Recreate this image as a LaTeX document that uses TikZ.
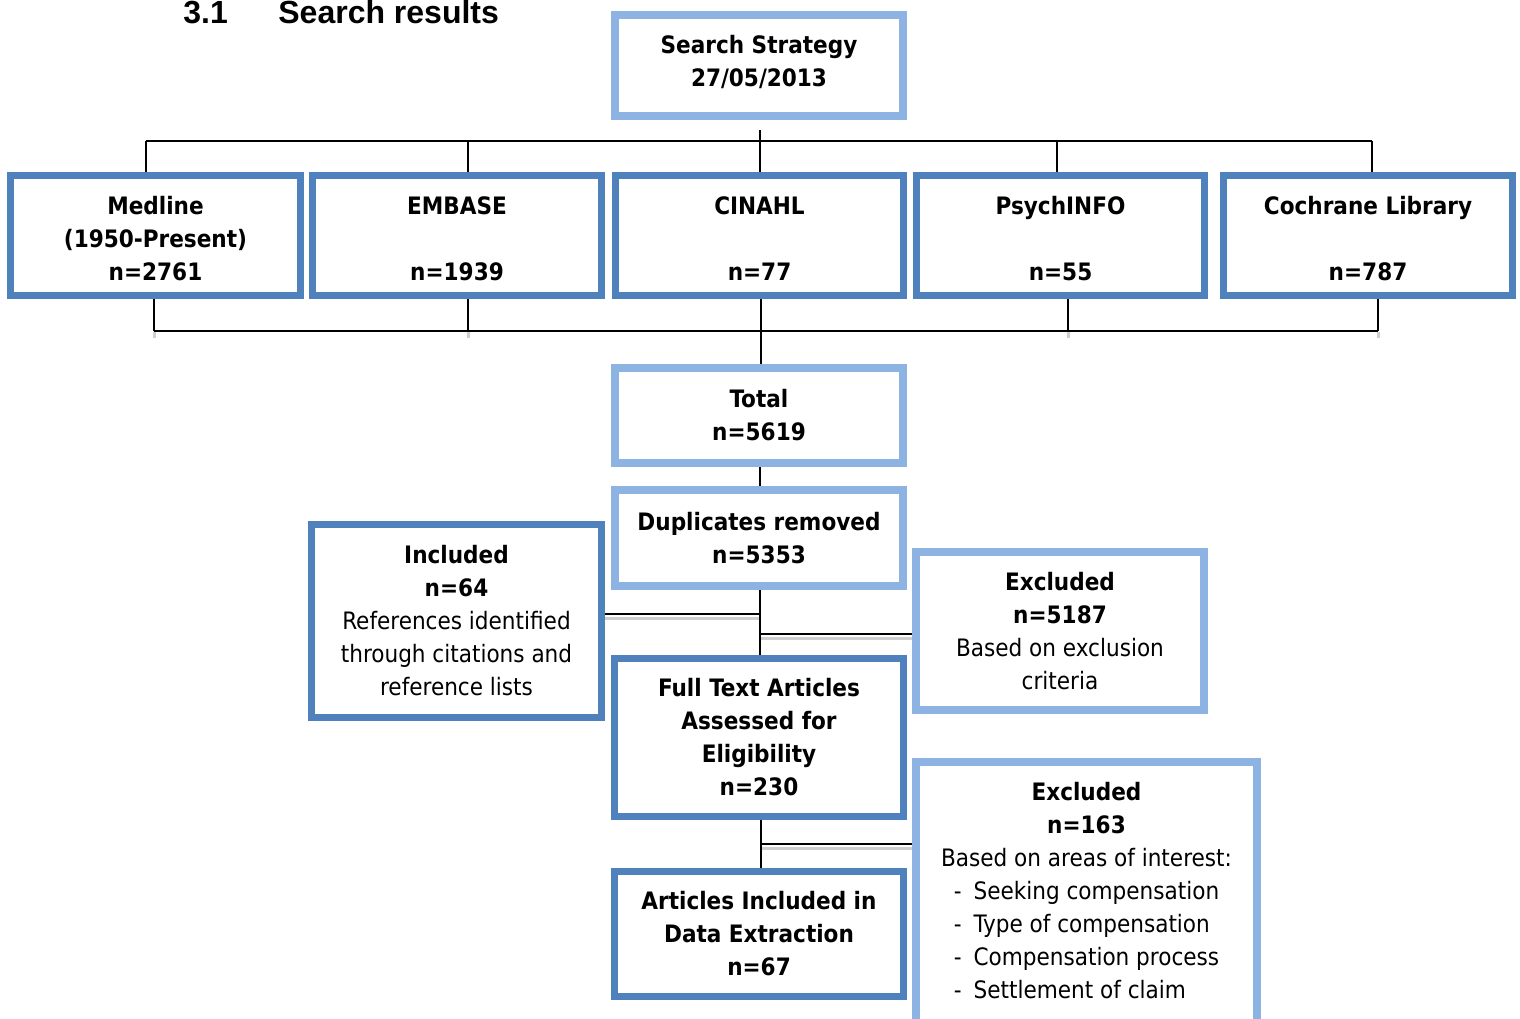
\documentclass[tikz,border=0pt]{standalone}
\usepackage{fontspec}
\setmainfont{DejaVu Sans Condensed}
\newfontfamily\titlefont{Liberation Sans}
\definecolor{lightbox}{HTML}{8DB3E2}
\definecolor{darkbox}{HTML}{4F81BD}
\definecolor{shadowgrey}{HTML}{CFCFCF}
\begin{document}
\begin{tikzpicture}[x=0.5pt,y=-0.5pt,
  boxtext/.style={rectangle, align=center, inner sep=0pt,
    font=\fontsize{12}{16.5}\selectfont},
  boxbase/.style={boxtext, fill=white},
  lightb/.style={boxbase, draw=lightbox, line width=4pt},
  darkb/.style={boxbase, draw=darkbox, line width=3.5pt},
  conn/.style={draw=black, line width=1pt},
  shadow/.style={draw=shadowgrey, line width=1.5pt}]
\useasboundingbox (0,0) rectangle (1520,1018);
% title
\node[anchor=base west, inner sep=0pt, font=\titlefont\bfseries\fontsize{16}{19}\selectfont] (title) at (183,23) {\makebox[47.5pt][l]{3.1}Search results};
% boxes
\node[lightb, minimum width=144pt, minimum height=50.5pt] (search) at (759,65.5) {};
\node[boxtext] (searchtxt) at (759,61.5) {\textbf{Search Strategy}\\\textbf{27/05/2013}};
\node[darkb, minimum width=145pt, minimum height=60pt] (medline) at (155.5,235.5) {};
\node[darkb, minimum width=144.5pt, minimum height=60pt] (embase) at (457,235.5) {};
\node[darkb, minimum width=144pt, minimum height=60pt] (cinahl) at (759.5,235.5) {};
\node[darkb, minimum width=144pt, minimum height=60pt] (psych) at (1060.5,235.5) {};
\node[darkb, minimum width=144.5pt, minimum height=60pt] (cochrane) at (1368,235.5) {};
\node[boxtext] (medlinetxt) at (155.5,238.5) {\textbf{Medline}\\\textbf{(1950-Present)}\\\textbf{n=2761}};
\node[boxtext] (embasetxt) at (457,238.5) {\textbf{EMBASE}\\[16.5pt]\textbf{n=1939}};
\node[boxtext] (cinahltxt) at (759.5,238.5) {\textbf{CINAHL}\\[16.5pt]\textbf{n=77}};
\node[boxtext] (psychtxt) at (1060.5,238.5) {\textbf{PsychINFO}\\[16.5pt]\textbf{n=55}};
\node[boxtext] (cochranetxt) at (1368,238.5) {\textbf{Cochrane Library}\\[16.5pt]\textbf{n=787}};
\node[lightb, minimum width=144pt, minimum height=47.5pt] (total) at (759,415.5) {\textbf{Total}\\\textbf{n=5619}};
\node[lightb, minimum width=144pt, minimum height=48pt] (dup) at (759,538) {\textbf{Duplicates removed}\\\textbf{n=5353}};
\node[darkb, minimum width=145pt, minimum height=96.5pt] (incl) at (456.5,621) {\textbf{Included}\\\textbf{n=64}\\References identified\\through citations and\\reference lists};
\node[lightb, minimum width=144pt, minimum height=79pt] (excl1) at (1060,631) {\textbf{Excluded}\\\textbf{n=5187}\\Based on exclusion\\criteria};
\node[darkb, minimum width=144.5pt, minimum height=79pt] (full) at (759,737.5) {\textbf{Full Text Articles}\\\textbf{Assessed for}\\\textbf{Eligibility}\\\textbf{n=230}};
\node[lightb, minimum width=170.5pt, minimum height=134.5pt] (excl2) at (1086.5,896.5) {};
\node[boxtext] (excl2txt) at (1086.5,895) {\textbf{Excluded}\\\textbf{n=163}\\Based on areas of interest:\\\begin{tabular}[t]{@{}l@{}}-\hspace{6pt}Seeking compensation\\-\hspace{6pt}Type of compensation\\-\hspace{6pt}Compensation process\\-\hspace{6pt}Settlement of claim\end{tabular}};
\node[darkb, minimum width=144.5pt, minimum height=62.5pt] (art) at (759,934) {\textbf{Articles Included in}\\\textbf{Data Extraction}\\\textbf{n=67}};
% top bus
\coordinate (s1) at (760,130);
\coordinate (tA) at (146,141);
\coordinate (tB) at (468,141);
\coordinate (tD) at (1057,141);
\coordinate (tE) at (1372,141);
\draw[conn] (tA) -- (tE);
\draw[conn] (s1) -- (s1 |- cinahl.north);
\draw[conn] (tA) -- (tA |- medline.north);
\draw[conn] (tB) -- (tB |- embase.north);
\draw[conn] (tD) -- (tD |- psych.north);
\draw[conn] (tE) -- (tE |- cochrane.north);
% bottom bus
\coordinate (bA) at (154,331);
\coordinate (bB) at (468,331);
\coordinate (bC) at (761,331);
\coordinate (bD) at (1068,331);
\coordinate (bE) at (1378,331);
\foreach \c in {bA,bB,bD,bE}{\draw[shadow] ([yshift=-0.5pt]\c) -- ++(0,6);}
\draw[conn] (bA) -- (bE);
\draw[conn] (bA |- medline.south) -- (bA);
\draw[conn] (bB |- embase.south) -- (bB);
\draw[conn] (bD |- psych.south) -- (bD);
\draw[conn] (bE |- cochrane.south) -- (bE);
\draw[conn] (bC |- cinahl.south) -- (bC |- total.north);
% chain
\coordinate (m0) at (760,467);
\draw[conn] (m0 |- total.south) -- (m0 |- dup.north);
\coordinate (m1) at (760,614);
\coordinate (m2) at (761,634);
\coordinate (m3) at (761,844);
\draw[shadow] ([yshift=-2.2pt]m1) -- ([yshift=-2.2pt]m1 -| incl.east);
\draw[shadow] ([yshift=-2.2pt]m2) -- ([yshift=-2.2pt]m2 -| excl1.west);
\draw[shadow] ([yshift=-2.2pt]m3) -- ([yshift=-2.2pt]m3 -| excl2.west);
\draw[conn] (m1 |- dup.south) -- (m1 |- full.north);
\draw[conn] (m1) -- (m1 -| incl.east);
\draw[conn] (m2) -- (m2 -| excl1.west);
\draw[conn] (m3 |- full.south) -- (m3 |- art.north);
\draw[conn] (m3) -- (m3 -| excl2.west);
\end{tikzpicture}
\end{document}
